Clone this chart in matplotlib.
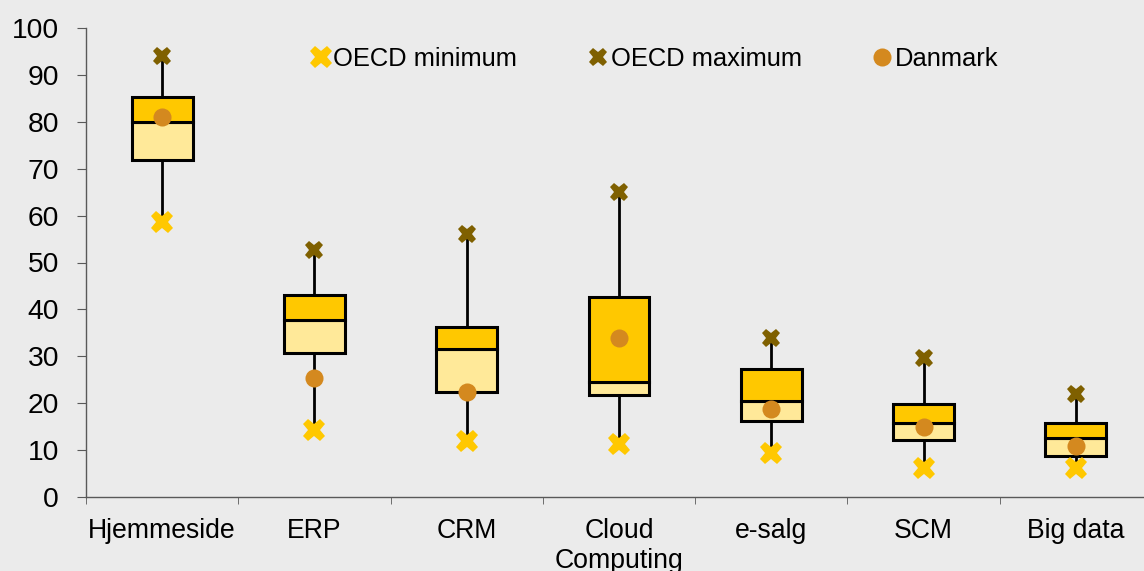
import numpy as np
import matplotlib.pyplot as plt
from matplotlib.lines import Line2D

plt.rcParams['font.family'] = ['Liberation Sans', 'DejaVu Sans']

# data
categories = ['Hjemmeside', 'ERP', 'CRM', 'Cloud\nComputing', 'e-salg', 'SCM', 'Big data']
oecd_min = [58.6, 14.3, 12.0, 11.4, 9.3, 6.1, 6.1]
q1 = [71.9, 30.7, 22.4, 21.7, 16.1, 12.1, 8.7]
median = [80.0, 37.7, 31.6, 24.6, 20.5, 15.8, 12.5]
q3 = [85.3, 43.1, 36.2, 42.6, 27.2, 19.8, 15.7]
oecd_max = [94.0, 52.6, 56.1, 65.1, 33.8, 29.6, 22.0]
danmark = [81.0, 25.4, 22.4, 33.8, 18.8, 15.0, 10.9]

bg = '#ebebeb'
gold = '#ffc800'
light = '#ffe999'
orange = '#d4891f'
olive = '#7f6000'

fig = plt.figure(figsize=(11.44, 5.71), dpi=100, facecolor=bg)
ax = fig.add_axes([86/1144, 74/571, 1066/1144, 469/571], facecolor=bg)

x = np.arange(len(categories))
q1 = np.array(q1); median = np.array(median); q3 = np.array(q3)

# whiskers
ax.vlines(x, q3, oecd_max, color='black', lw=2.0, zorder=1)
ax.vlines(x, oecd_min, q1, color='black', lw=2.0, zorder=1)

# two-coloured boxes
w = 0.4
ax.bar(x, median - q1, bottom=q1, width=w, color=light, edgecolor='black', lw=2.2, zorder=2)
ax.bar(x, q3 - median, bottom=median, width=w, color=gold, edgecolor='black', lw=2.2, zorder=2)

# markers
ax.plot(x, oecd_min, 'X', color=gold, ms=16, mew=0, ls='none', zorder=3)
ax.plot(x, oecd_max, 'X', color=olive, ms=13.5, mew=0, ls='none', zorder=3)
ax.plot(x, danmark, 'o', color=orange, ms=13, mew=0, ls='none', zorder=4)

ax.set_xlim(-0.5, len(categories) - 0.5)
ax.set_ylim(0, 100)
ax.set_yticks(range(0, 101, 10))
ax.set_xticks(x)
ax.set_xticklabels(categories)
ax.set_xticks(np.arange(len(categories) + 1) - 0.5, minor=True)

for s in ['top', 'right']:
    ax.spines[s].set_visible(False)
for s in ['left', 'bottom']:
    ax.spines[s].set_color('#595959')
    ax.spines[s].set_linewidth(1.0)

ax.tick_params(axis='y', labelsize=20.3, length=6.5, color='#595959', pad=13)
ax.tick_params(axis='x', which='major', labelsize=19.2, length=0, pad=15)
ax.tick_params(axis='x', which='minor', length=5, color='#595959')

handles = [
    Line2D([], [], marker='X', color=gold, ms=16, mew=0, ls='none'),
    Line2D([], [], marker='X', color=olive, ms=13.5, mew=0, ls='none'),
    Line2D([], [], marker='o', color=orange, ms=13, mew=0, ls='none'),
]
ax.legend(handles, ['OECD minimum', 'OECD maximum', 'Danmark'], ncol=3,
          loc='center', bbox_to_anchor=(0.532, 0.933), frameon=False,
          fontsize=18.4, handletextpad=0.0, columnspacing=2.65, handlelength=1.0)

fig.savefig('out.png', dpi=100, facecolor=bg)
